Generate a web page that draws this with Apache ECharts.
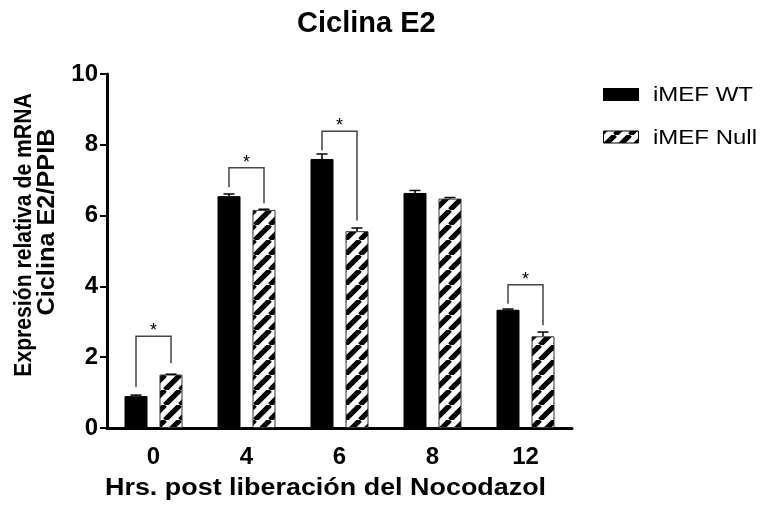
<!DOCTYPE html>
<html>
<head>
<meta charset="utf-8">
<script src="https://cdn.jsdelivr.net/npm/echarts@6/dist/echarts.min.js"></script>
<style>
  html, body { margin: 0; padding: 0; background: #fff; }
  #chart { width: 764px; height: 510px; }
</style>
</head>
<body>
<div id="chart"></div>
<script>
// Hours after nocodazole release
const categories = ['0', '4', '6', '8', '12'];

// Relative Cyclin E2 mRNA (normalised to PPIB), mean and SEM
const wtMean = [0.90, 6.55, 7.60, 6.64, 3.34];
const wtErr = [0.03, 0.06, 0.14, 0.07, 0.02];
const nullMean = [1.51, 6.16, 5.56, 6.48, 2.59];
const nullErr = [0.01, 0.02, 0.09, 0.03, 0.12];

// Significance brackets: category index, bracket height, left/right leg ends
const sigIndex = [0, 1, 2, 4];
const sigTop = [2.59, 7.35, 8.38, 4.05];
const sigLeftEnd = [1.16, 6.80, 7.84, 3.51];
const sigRightEnd = [1.83, 6.35, 5.86, 2.90];

const seriesNames = ['iMEF WT', 'iMEF Null'];
const yTicks = [0, 2, 4, 6, 8, 10];

const FONT = '"Liberation Sans", Arial, Helvetica, sans-serif';
const BAR_W = 23;
const BAR_GAP = 12;
const HALF = (BAR_W + BAR_GAP) / 2;

// Diagonal hatch fill for the null series
function makeHatch() {
  const S = 15;
  const c = document.createElement('canvas');
  c.width = S; c.height = S;
  const ctx = c.getContext('2d');
  ctx.fillStyle = '#fff';
  ctx.fillRect(0, 0, S, S);
  ctx.strokeStyle = '#000';
  ctx.lineWidth = 5.2;
  for (let k = -1; k <= 1; k++) {
    ctx.beginPath();
    ctx.moveTo(k * S, S);
    ctx.lineTo(k * S + S, 0);
    ctx.stroke();
  }
  return c;
}
const hatch = makeHatch();
const hatchFill = { image: hatch, repeat: 'repeat' };

function errorSeries(name, mean, err, offset) {
  return {
    type: 'custom',
    name: name,
    z: 5,
    silent: true,
    data: categories.map((c, i) => [i, mean[i], err[i]]),
    renderItem: function (params, api) {
      const base = api.coord([api.value(0), api.value(1)]);
      const top = api.coord([api.value(0), api.value(1) + api.value(2)]);
      const x = base[0] + offset;
      const st = { stroke: '#000', lineWidth: 1.5 };
      return {
        type: 'group',
        children: [
          { type: 'line', shape: { x1: x, y1: base[1], x2: x, y2: top[1] }, style: st },
          { type: 'line', shape: { x1: x - 5.5, y1: top[1], x2: x + 5.5, y2: top[1] }, style: st }
        ]
      };
    }
  };
}

const chart = echarts.init(document.getElementById('chart'), null, { renderer: 'canvas' });

chart.setOption({
  animation: false,
  backgroundColor: '#fff',
  title: {
    text: 'Ciclina E2',
    left: 292,
    top: 4,
    textStyle: { fontFamily: FONT, fontSize: 29, fontWeight: 'bold', color: '#000' }
  },
  grid: { left: 107, right: 192, top: 74, bottom: 82, containLabel: false },
  xAxis: {
    type: 'category',
    data: categories,
    axisLine: { lineStyle: { color: '#000', width: 3 } },
    axisTick: { alignWithLabel: true, length: 8, lineStyle: { color: '#000', width: 2 } },
    axisLabel: { fontFamily: FONT, fontSize: 24, fontWeight: 'bold', color: '#000', margin: 17 }
  },
  yAxis: {
    type: 'value',
    min: yTicks[0],
    max: yTicks[yTicks.length - 1],
    interval: 2,
    splitLine: { show: false },
    axisLine: { show: true, lineStyle: { color: '#000', width: 3 } },
    axisTick: { show: true, length: 7, lineStyle: { color: '#000', width: 2 } },
    axisLabel: { fontFamily: FONT, fontSize: 24, fontWeight: 'bold', color: '#000', margin: 9 }
  },
  graphic: [
    // x-axis title
    {
      type: 'text', x: 105, y: 489, scaleX: 1.17,
      style: {
        text: 'Hrs. post liberación del Nocodazol',
        font: 'bold 23px ' + FONT, fill: '#000',
        textAlign: 'left', textVerticalAlign: 'middle'
      }
    },
    // y-axis title, two lines
    {
      type: 'text', x: 25, y: 235, rotation: Math.PI / 2, scaleX: 0.92,
      style: {
        text: 'Expresión relativa de mRNA',
        font: 'bold 23px ' + FONT, fill: '#000',
        textAlign: 'center', textVerticalAlign: 'middle'
      }
    },
    {
      type: 'text', x: 48, y: 222, rotation: Math.PI / 2, scaleX: 1.1,
      style: {
        text: 'Ciclina E2/PPIB',
        font: 'bold 23px ' + FONT, fill: '#000',
        textAlign: 'center', textVerticalAlign: 'middle'
      }
    },
    // legend
    { type: 'rect', shape: { x: 603, y: 88, width: 36, height: 13 }, style: { fill: '#000' } },
    { type: 'rect', shape: { x: 603.5, y: 131, width: 35, height: 12 }, style: { fill: hatchFill, stroke: '#000', lineWidth: 1 } },
    {
      type: 'text', x: 653, y: 95.5, scaleX: 1.2,
      style: { text: seriesNames[0], font: '20px ' + FONT, fill: '#000', textAlign: 'left', textVerticalAlign: 'middle' }
    },
    {
      type: 'text', x: 653, y: 138, scaleX: 1.2,
      style: { text: seriesNames[1], font: '20px ' + FONT, fill: '#000', textAlign: 'left', textVerticalAlign: 'middle' }
    }
  ],
  series: [
    {
      name: seriesNames[0],
      type: 'bar',
      data: wtMean,
      barWidth: BAR_W,
      barGap: (BAR_GAP / BAR_W * 100) + '%',
      itemStyle: { color: '#000', borderColor: '#000', borderWidth: 1 }
    },
    {
      name: seriesNames[1],
      type: 'bar',
      data: nullMean,
      barWidth: BAR_W,
      itemStyle: { color: hatchFill, borderColor: '#333', borderWidth: 1 }
    },
    errorSeries('wtErr', wtMean, wtErr, -HALF),
    errorSeries('nullErr', nullMean, nullErr, HALF),
    {
      type: 'custom',
      name: 'significance',
      z: 6,
      silent: true,
      data: sigIndex.map((c, i) => [c, sigTop[i], sigLeftEnd[i], sigRightEnd[i]]),
      renderItem: function (params, api) {
        const cat = api.value(0);
        const top = api.coord([cat, api.value(1)]);
        const l = api.coord([cat, api.value(2)]);
        const r = api.coord([cat, api.value(3)]);
        const xl = top[0] - HALF, xr = top[0] + HALF;
        return {
          type: 'group',
          children: [
            {
              type: 'polyline',
              shape: { points: [[xl, l[1]], [xl, top[1]], [xr, top[1]], [xr, r[1]]] },
              style: { stroke: '#444', lineWidth: 1.5, fill: null }
            },
            {
              type: 'text', x: top[0], y: top[1] - 5,
              style: {
                text: '*', font: '18px ' + FONT, fill: '#000',
                textAlign: 'center', textVerticalAlign: 'middle'
              }
            }
          ]
        };
      }
    }
  ]
});
</script>
</body>
</html>
